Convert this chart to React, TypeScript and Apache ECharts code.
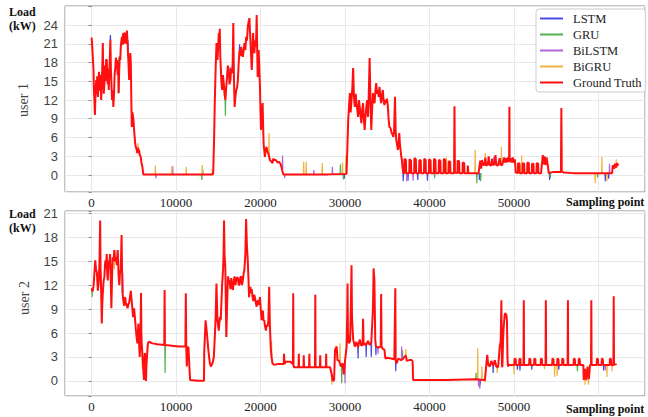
import React, { useEffect, useRef } from 'react';
import * as echarts from 'echarts';

const X_MIN = -3150;
const X_MAX = 65500;
const X_TICKS = [0, 10000, 20000, 30000, 40000, 50000];
const U1_Y_TICKS = [0, 3, 6, 9, 12, 15, 18, 21, 24];
const U2_Y_TICKS = [0, 3, 6, 9, 12, 15, 18, 21];
const U1_Y_RANGE = [-2.72, 27.04];
const U2_Y_RANGE = [-1.9, 21.3];

const NAMES = ['LSTM', 'GRU', 'BiLSTM', 'BiGRU', 'Ground Truth'];
const COLORS = ['#4a4ae0', '#52b052', '#b565d8', '#f2b23e', '#ff0f0f'];

// user 1 ground truth [sample, kW]
const U1_TRUTH = [
  [0,22.0],[80,20.5],[156,18.4],[220,17.0],[273,13.6],[330,12.0],[390,9.6],[450,12.5],[546,15.2],[600,13.0],[660,15.8],[741,12.5],[800,14.0],[870,16.5],[936,15.7],[1000,13.5],[1060,16.0],[1131,12.0],[1200,14.5],[1260,17.0],[1326,21.1],[1380,16.0],[1440,13.0],[1521,14.7],[1600,17.5],[1660,15.0],[1720,18.5],[1794,18.4],[1850,16.0],[1920,14.5],[1970,17.0],[2028,13.6],[2100,16.5],[2160,19.0],[2223,21.6],[2280,17.0],[2350,14.5],[2418,12.0],[2500,13.5],[2574,10.9],[2650,13.0],[2720,16.0],[2808,17.3],[2880,18.8],[2940,17.0],[3003,18.4],[3080,16.0],[3140,18.0],[3198,13.1],[3260,16.5],[3330,19.0],[3393,18.4],[3450,20.5],[3520,21.5],[3588,22.1],[3650,20.8],[3720,22.5],[3783,22.7],[3850,21.0],[3920,22.8],[3978,21.1],[4050,22.0],[4110,21.0],[4173,23.1],[4230,21.8],[4290,20.0],[4360,18.0],[4446,15.2],[4520,18.5],[4580,19.5],[4641,17.9],[4700,12.0],[4758,7.7],[4830,10.0],[4914,9.3],[4970,8.5],[5031,7.2],[5100,6.0],[5160,5.0],[5226,4.5],[5300,4.2],[5360,3.8],[5421,3.5],[5500,4.4],[5560,3.7],[5616,4.0],[5700,3.2],[5811,2.9],[5900,2.0],[6006,1.3],[6123,0.1],
  [9000,0.1],[12000,0.1],[14300,0.1],
  [14391,0.2],[14500,6.0],[14586,12.0],[14680,17.0],[14781,21.1],[14840,19.5],[14898,18.4],[14980,20.5],[15054,22.7],[15120,21.0],[15171,23.4],[15230,19.0],[15288,17.3],[15360,15.0],[15444,13.6],[15540,16.0],[15639,14.7],[15730,13.0],[15834,12.0],[15930,14.0],[16029,15.7],[16120,17.5],[16224,16.8],[16320,14.5],[16419,15.2],[16520,17.0],[16614,16.3],[16700,18.0],[16770,24.3],[16840,16.0],[16926,10.9],[17020,12.5],[17121,13.6],[17220,14.0],[17316,15.2],[17410,18.0],[17511,20.0],[17600,19.0],[17706,20.5],[17800,19.5],[17901,18.9],[18000,20.0],[18096,21.1],[18200,20.0],[18291,22.1],[18390,21.5],[18486,23.7],[18580,24.5],[18681,25.1],[18740,23.0],[18798,21.6],[18880,19.0],[18954,16.8],[19030,19.5],[19110,22.7],[19190,20.5],[19266,19.5],[19350,21.5],[19422,20.5],[19480,22.0],[19539,25.6],[19600,20.0],[19656,15.7],[19720,18.5],[19773,20.0],[19850,17.0],[19929,14.1],[19990,10.0],[20046,7.2],[20150,9.5],[20241,11.5],[20300,8.0],[20358,5.0],[20430,4.0],[20514,2.9],[20600,4.0],[20709,4.5],[20800,3.8],[20904,3.5],[21000,3.0],[21099,2.4],[21250,2.2],[21411,1.9],[21500,2.6],[21650,2.4],[21801,2.4],[22000,2.0],[22191,2.1],[22350,1.8],[22464,1.3],[22600,0.5],[22700,0.1],
  [25000,0.1],[28000,0.1],[30100,0.15],
  [30176,0.3],[30371,8.8],[30470,11.0],[30566,13.1],[30660,10.0],[30761,12.0],[30860,14.0],[30956,17.1],[31050,12.5],[31151,10.9],[31250,13.0],[31346,11.5],[31440,10.5],[31541,9.3],[31640,12.0],[31736,10.9],[31830,9.5],[31931,8.3],[32030,10.5],[32126,11.5],[32220,9.0],[32321,7.2],[32420,9.5],[32516,10.9],[32610,12.0],[32711,9.3],[32800,12.5],[32906,18.7],[33000,12.0],[33101,7.2],[33200,10.5],[33296,13.1],[33390,12.0],[33491,11.5],[33590,13.5],[33686,14.7],[33780,13.0],[33881,13.6],[33980,12.5],[34076,14.1],[34170,12.5],[34270,11.5],[34370,12.8],[34465,13.6],[34560,12.0],[34660,11.2],[34760,12.0],[34855,11.5],[34950,12.2],[35050,11.2],[35150,9.0],[35245,7.7],[35380,7.5],[35518,6.7],[35620,6.5],[35713,6.1],[35800,7.0],[35908,12.5],[35990,7.0],[36064,5.6],[36160,4.8],[36259,4.0],[36340,5.0],[36415,6.7],[36490,5.0],[36571,4.0],[36650,3.0],[36727,2.4],[36800,1.2],[36883,0.3],
  [37000,0.3],[37030,2.6],[37200,2.4],[37230,0.3],[37600,0.3],[37630,2.5],[37800,2.3],[37830,0.3],[38180,0.3],[38210,2.7],[38380,2.5],[38410,0.3],[38760,0.3],[38790,2.4],[38960,2.3],[38990,0.3],[39340,0.3],[39370,2.6],[39540,2.4],[39570,0.3],[39920,0.3],[39950,2.5],[40120,2.3],[40150,0.3],[40500,0.3],[40530,2.6],[40700,2.4],[40730,0.3],[41080,0.3],[41110,2.4],[41280,2.3],[41310,0.3],[41660,0.3],[41690,2.6],[41860,2.4],[41890,0.3],[42240,0.3],[42270,2.2],[42440,2.1],[42470,0.3],
  [42900,0.3],[42950,11.0],[43000,0.4],[43300,0.3],[43330,2.3],[43500,2.2],[43530,0.3],[43900,0.3],[43930,2.0],[44100,1.9],[44130,0.3],[44500,0.3],[44530,1.5],[44600,0.3],[45000,0.3],[45800,0.3],
  [46000,2.3],[46100,1.0],[46200,2.4],[46357,1.6],[46500,1.6],[46600,2.8],[46700,1.5],[46900,1.7],[47000,3.0],[47100,1.6],[47300,1.5],[47400,2.6],[47500,1.6],[47700,1.7],[47800,3.2],[47900,1.6],[48100,1.5],[48300,2.7],[48400,1.6],[48600,1.6],[48800,2.8],
  [48900,2.0],[49000,2.7],[49100,2.0],[49250,2.8],[49350,2.1],[49420,2.2],[49450,10.9],[49480,2.3],[49600,2.7],[49700,2.0],[49850,2.8],[49950,2.0],[50100,2.5],[50200,0.4],
  [50450,0.3],[50480,1.9],[50650,1.8],[50680,0.3],[51000,0.3],[51030,1.9],[51200,1.8],[51230,0.3],[51550,0.3],[51580,2.0],[51750,1.9],[51780,0.3],[52100,0.3],[52130,1.8],[52300,1.8],[52330,0.3],[52650,0.3],[52680,1.9],[52850,1.8],[52880,0.3],[53200,0.3],
  [53400,3.2],[53500,1.7],[53600,3.0],[53700,1.6],[53850,2.8],[54000,1.5],[54100,0.3],[54700,0.5],[55000,0.5],[55550,0.5],[55600,10.7],[55650,0.5],[55900,0.4],
  [57000,0.3],[58500,0.3],[60000,0.3],[61600,0.3],[61700,1.6],[61850,1.0],[61950,1.8],[62100,1.2],[62200,1.9],[62340,1.5]
];

// user 2 ground truth [sample, kW]
const U2_TRUTH = [
  [0,11.6],[120,11.2],[234,12.0],[330,13.5],[429,15.1],[520,14.0],[624,13.6],[740,11.3],[850,12.5],[935,15.0],[1013,20.1],[1060,14.0],[1091,13.1],[1150,10.0],[1208,7.2],[1260,9.5],[1325,11.0],[1420,12.5],[1520,13.1],[1580,14.5],[1637,15.1],[1700,14.0],[1793,15.9],[1850,13.5],[1910,12.6],[1970,14.0],[2027,15.1],[2100,14.5],[2183,15.9],[2260,13.0],[2339,9.1],[2420,13.0],[2495,15.5],[2590,15.0],[2690,16.4],[2790,15.0],[2885,15.5],[2980,14.5],[3080,16.4],[3140,15.0],[3197,13.1],[3280,12.0],[3353,13.5],[3450,14.0],[3548,18.3],[3600,14.0],[3665,11.0],[3760,10.0],[3860,9.4],[3960,10.5],[4055,9.8],[4150,9.5],[4250,9.1],[4350,9.6],[4445,9.8],[4540,10.5],[4640,11.3],[4700,10.5],[4756,10.5],[4830,9.0],[4912,8.0],[4970,8.8],[5029,9.1],[5120,8.0],[5224,6.6],[5320,5.5],[5419,4.7],[5480,6.0],[5536,7.2],[5610,5.0],[5692,3.0],[5780,5.0],[5848,11.0],[5890,6.0],[5926,4.7],[6000,3.5],[6082,2.2],[6140,1.0],[6199,0.1],[6260,2.5],[6316,3.5],[6380,1.5],[6433,0.0],[6490,2.0],[6550,3.0],[6610,4.0],[6667,4.7],[6784,4.9],
  [7200,4.7],[7800,4.6],[8600,4.5],[8640,11.4],[8680,4.5],[9500,4.4],[10300,4.3],[11100,4.3],[11151,11.0],[11200,4.3],[11268,1.8],[11330,4.2],[11463,4.2],[11560,2.0],[11658,0.1],[12500,0.0],[13300,0.0],
  [13334,3.7],[13490,7.6],[13646,6.0],[13802,4.0],[13997,2.2],[14114,1.8],[14309,2.2],[14465,3.0],[14582,5.5],[14680,8.0],[14777,12.2],[14894,7.6],[15050,6.3],[15180,8.0],[15284,7.6],[15440,11.9],[15560,14.0],[15620,16.0],[15674,20.1],[15730,16.0],[15830,14.0],[15947,5.5],[16050,10.0],[16142,13.1],[16240,12.5],[16337,12.6],[16430,11.5],[16531,12.9],[16620,12.0],[16726,11.4],[16820,12.5],[16921,13.1],[17020,12.0],[17116,12.6],[17210,13.0],[17311,12.9],[17400,12.0],[17506,12.1],[17600,13.0],[17701,13.1],[17800,12.0],[17896,12.6],[18000,13.5],[18091,14.0],[18200,16.0],[18286,20.3],[18380,17.0],[18481,15.1],[18560,13.0],[18637,10.5],[18720,11.5],[18793,11.8],[18870,11.0],[18949,11.5],[19050,10.5],[19144,10.0],[19240,10.8],[19339,10.4],[19440,9.8],[19534,9.3],[19630,10.0],[19729,10.0],[19830,9.5],[19924,10.5],[20020,9.0],[20119,7.6],[20200,8.5],[20274,8.8],[20350,7.5],[20430,7.6],[20530,6.8],[20625,6.3],[20720,7.0],[20820,6.8],[20920,7.5],[21015,11.8],[21100,7.0],[21210,4.0],[21300,3.0],[21405,2.2],
  [21600,2.0],[22000,2.1],[22500,2.1],[22740,2.1],[22770,3.4],[22830,2.1],[22965,2.4],[23300,2.4],[23550,2.4],[23700,2.2],[23830,2.1],[23862,11.0],[23900,2.0],[23940,1.7],[24490,1.7],[24524,3.4],[24560,1.7],[25080,1.7],[25109,3.2],[25140,1.7],[25740,1.7],[25772,3.4],[25800,1.7],[26440,1.7],[26474,10.8],[26510,1.7],[27030,1.7],[27059,3.2],[27090,1.7],[27730,1.7],[27760,3.4],[27790,1.7],[28228,1.7],
  [28423,0.8],[28550,0.0],[28700,0.1],[28813,3.9],[29006,4.3],[29100,2.6],[29300,2.5],[29500,1.8],[29700,2.2],[29850,0.8],[29990,2.5],[30100,3.5],[30178,4.2],[30250,8.0],[30295,12.2],[30340,6.0],[30451,4.7],[30600,5.0],[30680,9.0],[30763,14.5],[30820,8.0],[30958,5.2],[31150,4.3],[31348,4.9],[31540,4.2],[31738,5.2],[31930,4.4],[32080,4.5],[32127,7.8],[32200,4.5],[32322,4.7],[32500,4.5],[32712,5.0],[32900,4.5],[33102,4.8],[33300,9.0],[33375,14.1],[33470,12.7],[33570,5.2],[33650,4.3],[33880,4.2],[34074,4.2],[34220,4.3],[34269,10.9],[34320,4.3],[34464,4.0],[34659,3.9],
  [34776,2.8],[35049,2.9],[35439,2.8],[35829,2.7],[35900,2.7],[35946,11.6],[35990,2.6],[36102,2.2],[36300,2.8],[36609,2.6],[36800,2.7],[37194,3.2],[37300,2.5],[37584,2.6],[37895,2.6],[38000,2.4],[38051,0.1],[42000,0.1],[45382,0.2],[46551,0.1],
  [46824,3.25],[46950,2.0],[47136,1.8],[47300,2.5],[47526,1.9],[47721,2.6],[47900,1.8],[48111,1.7],[48306,4.3],[48420,5.0],[48501,10.1],[48560,2.0],[48618,1.7],[48700,5.0],[48774,6.8],[48900,8.3],[48969,8.5],[49100,8.2],[49163,7.5],[49220,3.0],[49280,1.8],
  [49400,2.0],[49800,2.0],[50030,2.0],[50060,2.8],[50200,2.7],[50230,2.0],[50600,2.0],[50645,2.8],[50760,2.7],[50790,2.0],[51120,2.0],[51152,10.1],[51190,2.0],[51780,2.0],[51815,2.8],[51930,2.7],[51960,2.0],[52370,2.0],[52400,2.8],[52520,2.7],[52550,2.0],[53150,2.0],[53180,2.8],[53300,2.7],[53330,2.0],[53730,2.0],[53764,10.1],[53800,2.0],[54510,2.0],[54544,2.8],[54660,2.7],[54690,2.0],[55100,2.0],[55129,2.8],[55250,2.7],[55280,2.0],[55680,2.0],[55714,2.8],[55830,2.7],[55860,2.0],[56340,2.0],[56377,10.1],[56410,2.0],[57050,2.0],[57079,2.8],[57200,2.7],[57230,2.0],[57630,2.0],[57663,2.8],[57780,2.7],[57810,2.0],
  [58200,2.0],[58248,0.1],[58400,1.5],[58550,0.1],[58700,1.8],[58850,0.2],[59000,2.0],[59110,2.0],[59145,10.1],[59180,2.0],[59780,2.0],[59808,2.8],[59930,2.7],[59960,2.0],[60360,2.0],[60393,2.8],[60510,2.7],[60540,2.0],[61320,2.0],[61351,2.8],[61470,2.7],[61500,2.0],[61760,2.0],[61797,10.6],[61830,2.0],[62148,2.1]
];

// model deviations visible around the ground truth: [sample, truth level, model value]
const U1_LSTM = [[2223,21.6,22.4],[4290,20.0,21.6],[16419,15.2,17.2],[17511,20.0,20.9],[29900,0.1,-0.6],[36883,0.3,-1.0],[37450,0.3,-0.9],[38600,0.3,-0.8],[39750,0.3,-0.9],[45900,0.3,-0.8],[54200,0.5,-0.8],[60800,0.3,-1.0],[61200,0.3,-0.6]];
const U1_GRU = [[3198,13.1,18.7],[13050,0.1,-0.8],[13150,0.1,0.9],[15834,12.0,9.5],[29450,0.1,1.7],[29800,0.1,-0.7],[40600,0.3,-0.5],[45600,0.3,-1.3],[46050,0.3,-1.0],[54300,0.5,-0.5],[59900,0.3,-0.4]];
const U1_BILSTM = [[7600,0.1,-0.5],[9600,0.1,1.4],[22600,1.0,3.1],[22850,0.1,-0.5],[26300,0.1,0.8],[28500,0.1,1.3],[37300,0.3,-1.0],[38050,0.3,-0.9],[47600,1.6,3.0],[61300,0.3,1.8]];
const U1_BIGRU = [[5500,4.4,5.1],[7550,0.1,1.5],[9500,0.1,1.4],[11200,0.1,1.3],[13100,0.1,1.6],[14300,0.1,1.0],[21000,3.0,6.7],[25100,0.1,2.1],[25400,0.1,2.1],[27300,0.1,1.9],[29700,0.1,2.0],[30100,0.15,3.2],[42000,0.3,2.8],[45400,0.3,4.0],[46600,2.8,3.5],[48500,1.6,4.5],[50900,0.3,3.1],[59600,0.3,-1.3],[60400,0.3,2.9],[61000,0.3,-1.0],[62100,1.2,2.5]];
const U2_LSTM = [[3665,11.0,13.5],[28420,0.8,-0.1],[31540,4.2,2.8],[32500,4.5,3.0],[33102,4.8,3.0],[33650,4.3,3.2],[36000,2.6,1.2],[46000,0.1,-0.5],[47526,1.9,1.0],[50400,2.0,1.4],[50700,2.0,1.3],[52100,2.0,1.4],[55300,2.0,1.4],[60600,2.0,1.3]];
const U2_GRU = [[60,11.6,10.5],[15947,5.5,6.6],[8700,4.5,1.0],[29600,1.8,-0.3],[36800,2.7,3.8],[45500,0.2,1.0],[57500,2.0,1.2]];
const U2_BILSTM = [[29990,2.5,-0.3],[33900,4.2,3.4],[36700,2.6,4.3],[45800,0.1,-0.7],[45950,0.1,-1.0],[60800,2.0,1.3]];
const U2_BIGRU = [[2690,16.4,14.0],[6000,3.5,1.5],[21300,3.0,5.0],[28450,0.8,-0.5],[29400,2.5,4.7],[37194,3.2,4.0],[45700,0.2,4.1],[46200,0.1,1.8],[46600,0.1,-0.2],[48000,1.7,1.0],[50000,2.0,0.8],[53600,2.0,1.5],[54800,2.0,0.5],[55100,2.0,0.6],[58400,1.0,-0.5],[58800,0.2,-0.5],[61000,2.0,0.5],[61600,2.0,1.2]];

function spikeData(list: number[][]) {
  const out: any[] = [];
  const sorted = list.slice().sort((a, b) => a[0] - b[0]);
  for (const [x, base, val] of sorted) {
    out.push([x - 35, base], [x, val], [x + 35, base], [x + 36, '-']);
  }
  return out;
}

const SERIF = '"Liberation Serif", "Times New Roman", serif';
const SANS = '"Liberation Sans", Arial, sans-serif';

function makeYAxis(grid: number, range: number[], ticks: number[], split: number) {
  return {
    type: 'value', gridIndex: grid, min: range[0], max: range[1], splitNumber: split,
    axisLine: { show: false },
    axisTick: { show: true, length: 3, lineStyle: { color: '#888' } },
    splitLine: { show: true, lineStyle: { color: '#e8e8e8', width: 1 } },
    axisLabel: {
      margin: 7, fontFamily: SANS, fontSize: 13, color: '#444',
      formatter: (v: number) => (ticks.some((t) => Math.abs(t - v) < 1e-6) ? String(Math.round(v)) : ''),
    },
  };
}

function makeXAxis(grid: number) {
  return {
    type: 'value', gridIndex: grid, min: X_MIN, max: X_MAX, splitNumber: 5,
    axisLine: { show: false },
    axisTick: { show: false },
    splitLine: { show: true, lineStyle: { color: '#e8e8e8', width: 1 } },
    axisLabel: {
      margin: 4, fontFamily: SERIF, fontSize: 13, color: '#222',
      formatter: (v: number) => (X_TICKS.some((t) => Math.abs(t - v) < 1e-6) ? String(v) : ''),
    },
  };
}

export default function App() {
  const ref = useRef<HTMLDivElement>(null);
  useEffect(() => {
    if (!ref.current) return;
    const chart = echarts.init(ref.current, undefined, { renderer: 'svg' });
    const preds = [
      [U1_LSTM, U1_GRU, U1_BILSTM, U1_BIGRU],
      [U2_LSTM, U2_GRU, U2_BILSTM, U2_BIGRU],
    ];
    const truths = [U1_TRUTH, U2_TRUTH];
    const series: any[] = [];
    [0, 1].forEach((g) => {
      preds[g].forEach((list, i) => {
        series.push({
          name: NAMES[i], type: 'line', xAxisIndex: g, yAxisIndex: g,
          data: spikeData(list), showSymbol: false, symbol: 'none',
          color: COLORS[i], lineStyle: { width: 1.2, color: COLORS[i] },
          connectNulls: false, z: 2,
        });
      });
      series.push({
        name: NAMES[4], type: 'line', xAxisIndex: g, yAxisIndex: g,
        data: truths[g], showSymbol: false, symbol: 'none',
        color: COLORS[4], lineStyle: { width: 2, color: COLORS[4] }, z: 3,
      });
    });
    const txt = (text: string, x: number, y: number, font: string, fill: string) => ({
      type: 'text', x, y, z: 10,
      style: { text, font, fill, align: 'left', verticalAlign: 'middle' },
    });
    chart.setOption({
      animation: false,
      backgroundColor: '#ffffff',
      grid: [
        { left: 65, top: 6, width: 587, height: 186, show: true, borderColor: '#888', borderWidth: 1, backgroundColor: 'transparent' },
        { left: 65, top: 211, width: 587, height: 185, show: true, borderColor: '#888', borderWidth: 1, backgroundColor: 'transparent' },
      ],
      xAxis: [makeXAxis(0), makeXAxis(1)],
      yAxis: [makeYAxis(0, U1_Y_RANGE, U1_Y_TICKS, 10), makeYAxis(1, U2_Y_RANGE, U2_Y_TICKS, 8)],
      legend: {
        data: NAMES, orient: 'vertical', left: 536, top: 9,
        padding: [2, 4, 2, 4], itemGap: 1, itemWidth: 23, itemHeight: 2, icon: 'rect',
        backgroundColor: 'rgba(255,255,255,0.9)', borderColor: '#cccccc', borderWidth: 1, borderRadius: 3,
        textStyle: { fontFamily: SERIF, fontSize: 12.5, color: '#222', padding: [0, 0, 0, 5], lineHeight: 15 },
      },
      graphic: [
        txt('Load', 9, 12, 'bold 12px ' + SERIF, '#111'),
        txt('(kW)', 9, 26, 'bold 12px ' + SERIF, '#111'),
        { type: 'text', x: 23, y: 100, rotation: Math.PI / 2, z: 10, style: { text: 'user 1', font: '14px ' + SERIF, fill: '#444', align: 'center', verticalAlign: 'middle' } },
        txt('Load', 9, 214, 'bold 12px ' + SERIF, '#111'),
        txt('(kW)', 9, 228, 'bold 12px ' + SERIF, '#111'),
        { type: 'text', x: 24, y: 298, rotation: Math.PI / 2, z: 10, style: { text: 'user 2', font: '14px ' + SERIF, fill: '#444', align: 'center', verticalAlign: 'middle' } },
        txt('Sampling point', 566, 202, 'bold 12px ' + SERIF, '#111'),
        txt('Sampling point', 566, 409, 'bold 12px ' + SERIF, '#111'),
      ],
      series,
    });
    return () => chart.dispose();
  }, []);
  return <div ref={ref} style={{ position: 'fixed', left: 0, top: 0, width: 648, height: 417, background: '#fff' }} />;
}
